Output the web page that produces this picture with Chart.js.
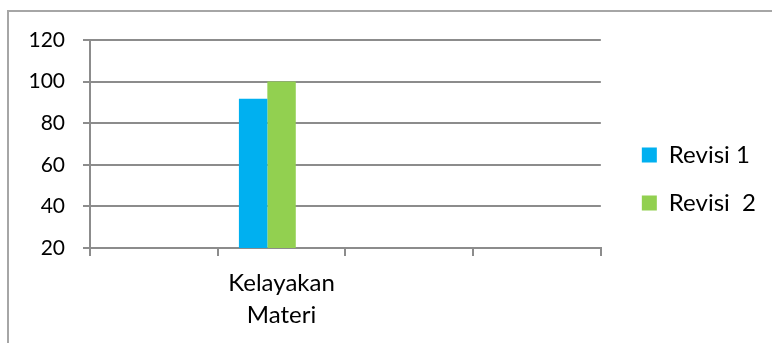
<!DOCTYPE html>
<html>
<head>
<meta charset="utf-8">
<script src="https://cdn.jsdelivr.net/npm/chart.js@4/dist/chart.umd.min.js"></script>
<style>
  html, body { margin: 0; padding: 0; background: #fff; overflow: hidden; }
  #frame { position: absolute; left: 7px; top: 10px; width: 900px; height: 500px; border: 2px solid #a6a6a6; box-sizing: border-box; }
  #wrap { position: absolute; left: 0; top: 0; width: 772px; height: 343px; }
</style>
</head>
<body>
<div id="frame"></div>
<div id="wrap"><canvas id="revChart" width="772" height="343"></canvas></div>
<script>
const categories = ['', ['Kelayakan', 'Materi'], '', ''];
const revisi1 = [null, 91.7, null, null];
const revisi2 = [null, 100, null, null];
const series3 = [null, null, null, null];
const yTicks = [20, 40, 60, 80, 100, 120];

const ctx = document.getElementById('revChart').getContext('2d');
const family = 'Lato, "Open Sans", sans-serif';

// nudge the legend up a bit, it sits centred on the frame in the original
const legendShift = {
  id: 'legendShift',
  afterLayout(chart) {
    chart.legend.top -= 12.5;
    chart.legend.bottom -= 12.5;
  }
};

new Chart(ctx, {
  type: 'bar',
  data: {
    labels: categories,
    datasets: [
      { label: 'Revisi 1', data: revisi1, backgroundColor: '#00b0f0' },
      { label: 'Revisi  2', data: revisi2, backgroundColor: '#92d050' },
      { label: '', data: series3, backgroundColor: '#ffffff' }
    ]
  },
  plugins: [legendShift],
  options: {
    responsive: false,
    animation: false,
    categoryPercentage: 0.668,
    barPercentage: 1,
    layout: { padding: { left: 8, top: 40, right: 6, bottom: 0 } },
    plugins: {
      tooltip: { enabled: false },
      legend: {
        position: 'right',
        maxWidth: 220,
        labels: {
          color: '#000',
          font: { family: family, size: 24 },
          boxWidth: 15,
          boxHeight: 15,
          padding: 24,
          filter: item => item.text !== ''
        }
      }
    },
    scales: {
      x: {
        afterFit: s => { s.height = 95; },
        grid: { drawOnChartArea: false, drawTicks: true, tickLength: 8, color: '#8c8c8c', lineWidth: 2 },
        border: { color: '#8c8c8c', width: 2 },
        ticks: { color: '#000', font: { family: family, size: 24, lineHeight: 1.333 }, padding: 11, maxRotation: 0 }
      },
      y: {
        min: 20,
        max: 120,
        afterFit: s => { s.width = 82; },
        afterBuildTicks: s => { s.ticks = yTicks.map(v => ({ value: v })); },
        grid: { color: '#8c8c8c', lineWidth: 2, tickLength: 7 },
        border: { color: '#8c8c8c', width: 2 },
        ticks: { color: '#000', font: { family: family, size: 21 }, padding: 18 }
      },
      y2: {
        position: 'right',
        display: true,
        afterFit: s => { s.width = 17; },
        grid: { display: false },
        border: { display: false },
        ticks: { display: false }
      }
    }
  }
});
</script>
</body>
</html>
